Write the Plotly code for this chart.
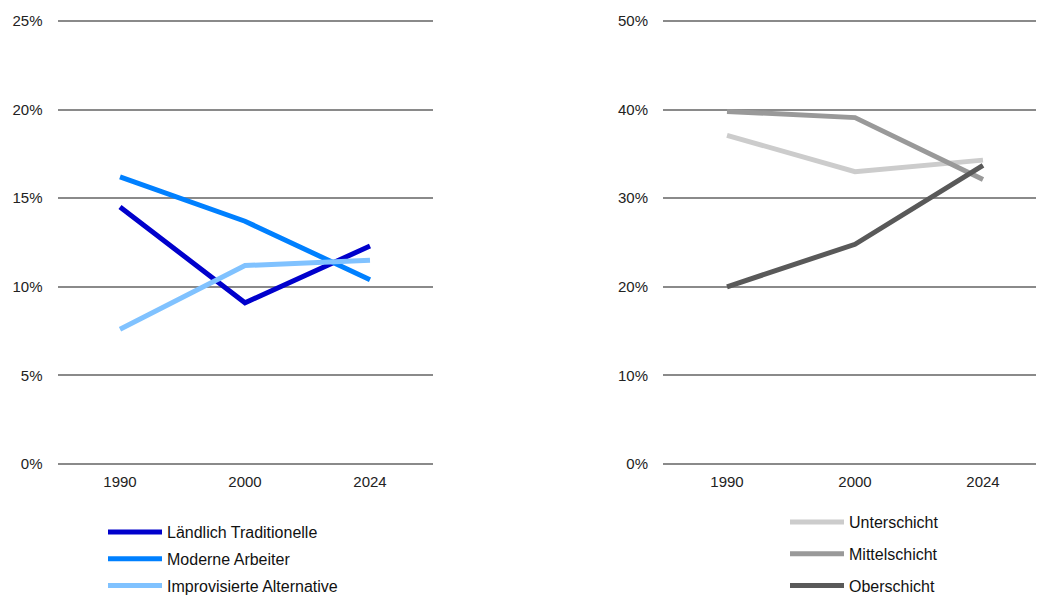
import plotly.graph_objects as go

years = ["1990", "2000", "2024"]

laendlich = [14.5, 9.1, 12.3]
moderne = [16.2, 13.7, 10.4]
improvisiert = [7.6, 11.2, 11.5]

unterschicht = [37.1, 33.0, 34.3]
mittelschicht = [39.8, 39.1, 32.1]
oberschicht = [20.0, 24.8, 33.7]

left_ticks = [0, 5, 10, 15, 20, 25]
right_ticks = [0, 10, 20, 30, 40, 50]

FONT = "Liberation Sans, Arial, sans-serif"
GRID = "#8a8a8a"
W, H = 1044, 598

fig = go.Figure()

left_series = [
    ("Ländlich Traditionelle", laendlich, "#0000cc"),
    ("Moderne Arbeiter", moderne, "#0080ff"),
    ("Improvisierte Alternative", improvisiert, "#80c2ff"),
]
for name, vals, col in left_series:
    fig.add_trace(go.Scatter(
        x=years, y=vals, name=name, mode="lines",
        line=dict(color=col, width=5),
        xaxis="x", yaxis="y", legend="legend", legendgroup=name,
    ))

right_series = [
    ("Unterschicht", unterschicht, "#cccccc"),
    ("Mittelschicht", mittelschicht, "#999999"),
    ("Oberschicht", oberschicht, "#595959"),
]
for name, vals, col in right_series:
    fig.add_trace(go.Scatter(
        x=years, y=vals, name=name, mode="lines",
        line=dict(color=col, width=5),
        xaxis="x2", yaxis="y2", legend="legend2", legendgroup=name,
    ))

axis_font = dict(family=FONT, size=15, color="#222222")
legend_font = dict(family=FONT, size=16, color="#111111")

fig.update_layout(
    width=W, height=H,
    margin=dict(l=0, r=0, t=12, b=H - 457, autoexpand=False),
    plot_bgcolor="white", paper_bgcolor="white",
    font=dict(family=FONT, size=15, color="#222222"),
    xaxis=dict(domain=[49.5 / W, 424.5 / W], type="category", range=[-0.5, 2.5],
               showgrid=False, zeroline=False, showline=False,
               tickfont=axis_font, ticks="", ticklabelstandoff=6, anchor="y"),
    yaxis=dict(range=[-0.06, 25.06], tickmode="array", tickvals=left_ticks,
               ticktext=[f"{v}%" for v in left_ticks],
               showgrid=True, gridcolor=GRID, gridwidth=2, zeroline=False,
               showline=False, tickfont=axis_font, ticks="",
               ticklabelstandoff=14, anchor="x"),
    xaxis2=dict(domain=[655 / W, 1039 / W], type="category", range=[-0.5, 2.5],
                showgrid=False, zeroline=False, showline=False,
                tickfont=axis_font, ticks="", ticklabelstandoff=6, anchor="y2"),
    yaxis2=dict(range=[-0.12, 50.12], tickmode="array", tickvals=right_ticks,
                ticktext=[f"{v}%" for v in right_ticks],
                showgrid=True, gridcolor=GRID, gridwidth=2, zeroline=False,
                showline=False, tickfont=axis_font, ticks="",
                ticklabelstandoff=14, anchor="x2"),
    legend=dict(x=95 / W, xanchor="left", yref="container", y=1 - 507 / H,
                yanchor="top", font=legend_font,
                tracegroupgap=3, itemwidth=54, bgcolor="rgba(0,0,0,0)"),
    legend2=dict(x=777 / W, xanchor="left", yref="container", y=1 - 497 / H,
                 yanchor="top", font=legend_font,
                 tracegroupgap=8, itemwidth=54, bgcolor="rgba(0,0,0,0)"),
    showlegend=True,
)

fig.write_html("out.html")
